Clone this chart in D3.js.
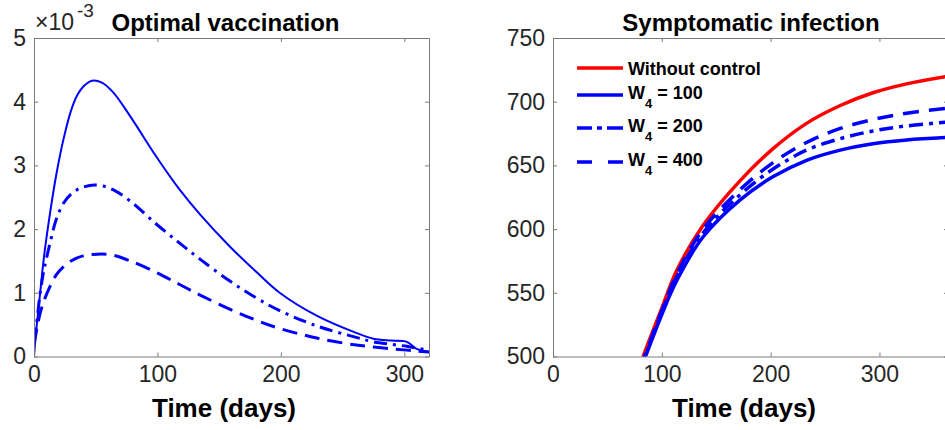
<!DOCTYPE html>
<html>
<head>
<meta charset="utf-8">
<script src="https://cdn.jsdelivr.net/npm/d3@7"></script>
<style>
  body { margin: 0; background: #fff; }
  svg { display: block; font-family: "Liberation Sans", Arial, sans-serif; }
</style>
</head>
<body>
<svg width="945" height="430"></svg>
<script>
// left panel: optimal vaccination u(t), values in units of 1e-3
var vacDays = [0, 2, 5, 8, 13, 18, 24, 30, 35, 40, 47, 55, 64, 78, 99, 118, 135, 159, 180, 199, 229, 261, 275, 290, 302, 310, 320]
var vacW100 = [0, 0.45, 1.0, 1.55, 2.25, 2.85, 3.42, 3.86, 4.1, 4.24, 4.33, 4.3, 4.15, 3.77, 3.14, 2.62, 2.22, 1.72, 1.33, 1.0, 0.64, 0.37, 0.28, 0.25, 0.23, 0.12, 0.075]
var vacW200 = [0.25, 0.5, 1.0, 1.35, 1.78, 2.15, 2.41, 2.55, 2.62, 2.66, 2.69, 2.68, 2.62, 2.44, 2.08, 1.78, 1.52, 1.18, 0.92, 0.72, 0.48, 0.30, 0.23, 0.19, 0.16, 0.13, 0.1]
var vacW400 = [0.2, 0.4, 0.68, 0.87, 1.1, 1.28, 1.41, 1.5, 1.55, 1.58, 1.6, 1.61, 1.59, 1.5, 1.32, 1.13, 0.96, 0.74, 0.57, 0.44, 0.29, 0.18, 0.15, 0.12, 0.1, 0.085, 0.07]

// right panel: symptomatic infection
var infDays = [80, 85, 100, 114, 138, 172, 202, 233, 264, 294, 325, 363]
var infNoCtrl = [493, 505, 538, 568, 603, 638, 663, 683, 697, 707, 714, 720]
var infW100 = [489, 500, 533, 560, 594, 623, 641, 654, 662, 667, 670, 672]
var infW200 = [490, 501, 535, 563, 597, 627, 647, 662, 671, 677, 681, 684]
var infW400 = [491, 502, 536, 565, 600, 631, 652, 668, 679, 686, 691, 695]

var xTicks = [0, 100, 200, 300]
var vacTicks = [0, 1, 2, 3, 4, 5]
var infTicks = [500, 550, 600, 650, 700, 750]
var legendNames = ['Without control', '100', '200', '400']

var svg = d3.select('svg')
var plotTop = 38, plotBottom = 356.5

function zipSeries(t, v) {
  return t.map(function (d, i) { return [d, v[i]] })
}

function panel(id, x0, w, xMax, yDom, yTicks, series) {
  var x = d3.scaleLinear().domain([0, xMax]).range([x0, x0 + w])
  var y = d3.scaleLinear().domain(yDom).range([plotBottom, plotTop])
  var g = svg.append('g')

  g.append('clipPath').attr('id', id)
    .append('rect').attr('x', x0).attr('y', plotTop).attr('width', w).attr('height', plotBottom - plotTop)

  var line = d3.line()
    .x(function (d) { return x(d[0]) })
    .y(function (d) { return y(d[1]) })
    .curve(d3.curveCatmullRom.alpha(0.5))

  series.forEach(function (s) {
    g.append('path')
      .attr('d', line(s.data))
      .attr('clip-path', 'url(#' + id + ')')
      .attr('fill', 'none')
      .attr('stroke', s.color)
      .attr('stroke-width', s.width)
      .attr('stroke-dasharray', s.dash || null)
      .attr('stroke-linejoin', 'round')
  })

  // box, ticks inside on all four sides
  var ax = [
    d3.axisBottom(x).tickValues(xTicks).tickSize(-4).tickSizeOuter(0).tickPadding(9),
    d3.axisTop(x).tickValues(xTicks).tickSize(-4).tickSizeOuter(0).tickFormat(''),
    d3.axisLeft(y).tickValues(yTicks).tickSize(-4).tickSizeOuter(0).tickPadding(8).tickFormat(d3.format('d')),
    d3.axisRight(y).tickValues(yTicks).tickSize(-4).tickSizeOuter(0).tickFormat('')
  ]
  var pos = ['translate(0,' + plotBottom + ')', 'translate(0,' + plotTop + ')',
             'translate(' + x0 + ',0)', 'translate(' + (x0 + w) + ',0)']
  ax.forEach(function (a, i) {
    var ga = g.append('g').attr('transform', pos[i]).call(a)
    ga.selectAll('path, line').attr('stroke', '#7a7a7a').attr('stroke-width', 1)
    ga.selectAll('text').attr('fill', '#262626')
      .style('font-size', '23px').style('font-family', '"Liberation Sans", Arial, sans-serif')
  })
  return { x: x, y: y, g: g }
}

var left = panel('clipL', 34, 395, 320, [0, 5], vacTicks, [
  { data: zipSeries(vacDays, vacW100), color: '#0000ff', width: 2 },
  { data: zipSeries(vacDays, vacW200), color: '#0000ff', width: 3, dash: '13,6,3,6' },
  { data: zipSeries(vacDays, vacW400), color: '#0000ff', width: 3, dash: '15,8' }
])

var right = panel('clipR', 553, 395, 363, [500, 750], infTicks, [
  { data: zipSeries(infDays, infNoCtrl), color: '#ff0000', width: 3.5 },
  { data: zipSeries(infDays, infW100), color: '#0000ff', width: 3.5 },
  { data: zipSeries(infDays, infW200), color: '#0000ff', width: 3.5, dash: '14,6,4,6' },
  { data: zipSeries(infDays, infW400), color: '#0000ff', width: 3.5, dash: '16,10' }
])

// titles and labels
function label(txt, cx, yy, size) {
  svg.append('text').attr('x', cx).attr('y', yy).attr('text-anchor', 'middle')
    .attr('fill', '#000').style('font-weight', 'bold').style('font-size', size + 'px')
    .text(txt)
}
label('Optimal vaccination', 225.5, 31, 24)
label('Symptomatic infection', 751, 31, 24)
label('Time (days)', 224, 417, 26)
label('Time (days)', 744, 417, 26)

var exp = svg.append('text').attr('x', 35).attr('y', 30).attr('fill', '#262626')
exp.append('tspan').style('font-size', '23px').text('×10')
exp.append('tspan').attr('dx', 3).attr('dy', -13).style('font-size', '19px').text('-3')

// legend
var legStyles = [
  { color: '#ff0000', dash: null },
  { color: '#0000ff', dash: null },
  { color: '#0000ff', dash: '15,5,5,5,16' },
  { color: '#0000ff', dash: '15,16' }
]
var legY = [68, 95, 128, 162]
legendNames.forEach(function (name, i) {
  var ly = legY[i]
  svg.append('line').attr('x1', 577).attr('x2', 623).attr('y1', ly).attr('y2', ly)
    .attr('stroke', legStyles[i].color).attr('stroke-width', 3.5)
    .attr('stroke-dasharray', legStyles[i].dash)
  var t = svg.append('text').attr('x', 628).attr('fill', '#000')
    .style('font-weight', 'bold').style('font-size', '18px')
  if (i === 0) {
    t.attr('y', ly + 7).text(name)
  } else {
    t.attr('y', ly + 4)
    t.append('tspan').text('W')
    t.append('tspan').attr('dy', 9).style('font-size', '13px').text('4')
    t.append('tspan').attr('dy', -9).text(' = ' + name)
  }
})
</script>
</body>
</html>
